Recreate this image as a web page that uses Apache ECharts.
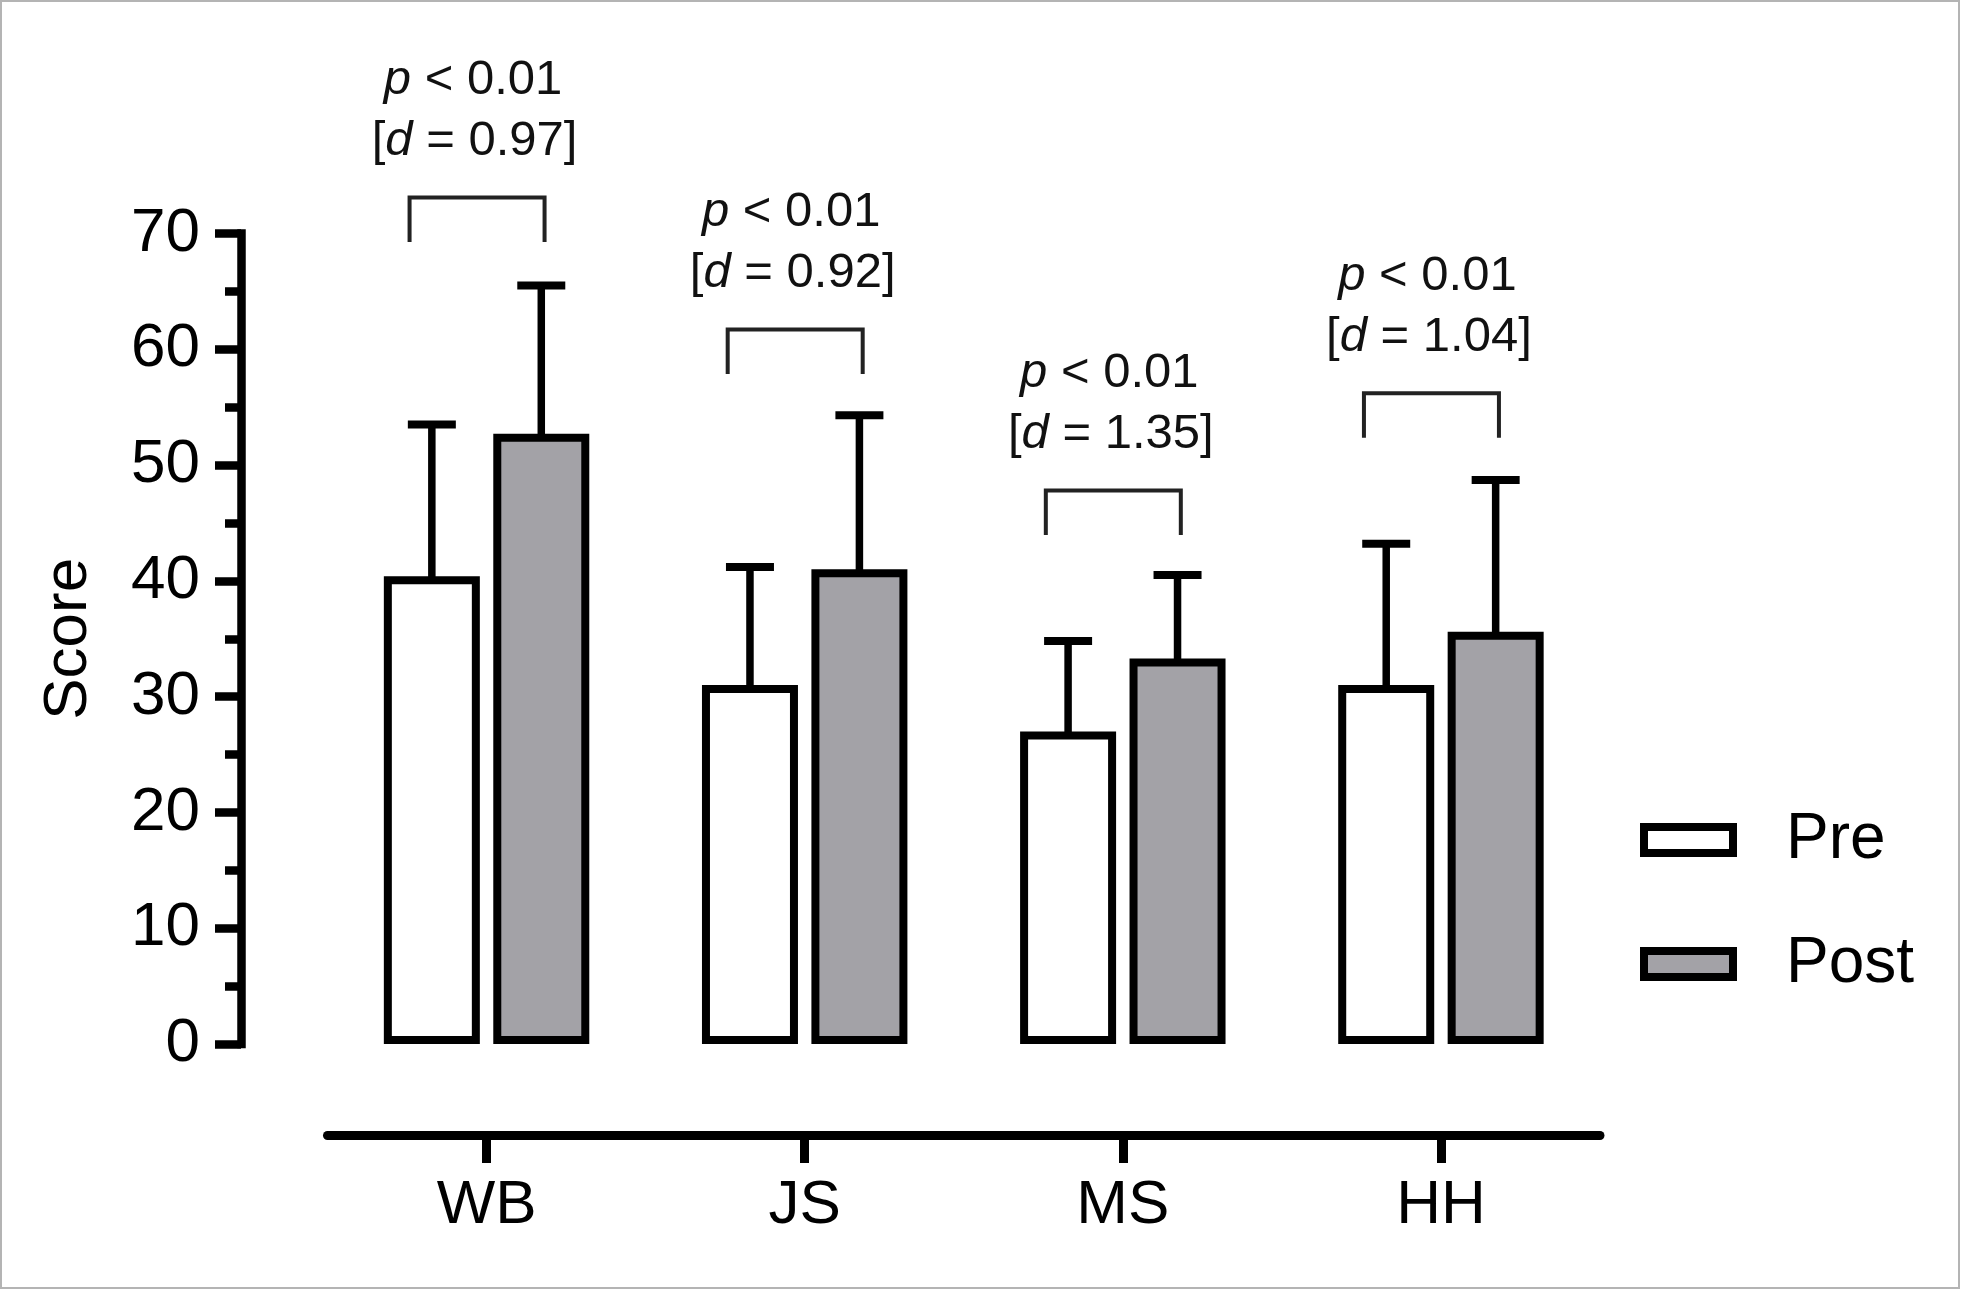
<!DOCTYPE html>
<html>
<head>
<meta charset="utf-8">
<title>Score Pre / Post</title>
<script src="https://cdn.jsdelivr.net/npm/echarts@6/dist/echarts.min.js"></script>
<style>
  html, body { margin: 0; padding: 0; background: #fff; }
  #main { width: 1961px; height: 1290px; }
</style>
</head>
<body>
<div id="main"></div>
<script>
// values
var categories = ['WB', 'JS', 'MS', 'HH'];
var preMean = [40.4, 31.0, 27.0, 31.0];
var preSD = [13.1, 10.2, 7.8, 12.2];
var postMean = [52.7, 41.0, 33.3, 35.6];
var postSD = [12.8, 13.3, 7.2, 13.1];
// significance annotations
var pText = ['< 0.01', '< 0.01', '< 0.01', '< 0.01'];
var dText = ['0.97', '0.92', '1.35', '1.04'];
var bracketTop = [73.1, 61.7, 47.8, 56.2];

var FONT = "'Liberation Sans', Arial, sans-serif";
var BAR_W = 96, BAR_GAP = 0.14;
var shift = BAR_W * (1 + BAR_GAP) / 2;

function errData(means, sds) {
  var out = [];
  for (var i = 0; i < means.length; i++) {
    out.push([i, means[i], sds[i]]);
  }
  return out;
}

// whisker above each bar (mean -> mean + SD)
function errRender(side) {
  return function (params, api) {
    var idx = api.value(0);
    var base = api.coord([idx, api.value(1)]);
    var top = api.coord([idx, api.value(1) + api.value(2)]);
    var x = base[0] + side * shift;
    return {
      type: 'group',
      children: [{
        type: 'line',
        shape: { x1: x, y1: base[1] + 4, x2: x, y2: top[1] },
        style: { stroke: '#000', lineWidth: 7.5 }
      }, {
        type: 'line',
        shape: { x1: x - 24, y1: top[1], x2: x + 24, y2: top[1] },
        style: { stroke: '#000', lineWidth: 8 }
      }]
    };
  };
}

var annData = [];
for (var i = 0; i < categories.length; i++) {
  annData.push([i, bracketTop[i]]);
}

function annRender(params, api) {
  var idx = api.value(0);
  var pt = api.coord([idx, api.value(1)]);
  var cx = pt[0] - 9.5;
  var y = pt[1];
  var half = 67.5, leg = 44.5;
  var tx = pt[0] - 12;
  var rich = { i: { fontStyle: 'italic', fontSize: 49, fontFamily: FONT, fill: '#111' } };
  return {
    type: 'group',
    children: [{
      type: 'polyline',
      shape: { points: [[cx - half, y + leg], [cx - half, y], [cx + half, y], [cx + half, y + leg]] },
      style: { stroke: '#222', lineWidth: 4, fill: null }
    }, {
      type: 'text',
      x: tx - 1.5, y: y - 117,
      style: {
        text: '{i|p} ' + pText[idx],
        rich: rich,
        font: '49px ' + FONT,
        fill: '#111',
        align: 'center',
        verticalAlign: 'middle'
      }
    }, {
      type: 'text',
      x: tx, y: y - 56,
      style: {
        text: '[{i|d} = ' + dText[idx] + ']',
        rich: rich,
        font: '49px ' + FONT,
        fill: '#111',
        align: 'center',
        verticalAlign: 'middle'
      }
    }]
  };
}

var chart = echarts.init(document.getElementById('main'));
var option = {
  backgroundColor: '#fff',
  animation: false,
  textStyle: { fontFamily: FONT, color: '#000' },
  graphic: [{
    type: 'rect',
    shape: { x: 1, y: 1, width: 1958, height: 1287 },
    style: { fill: null, stroke: '#b4b4b4', lineWidth: 2 },
    silent: true
  }],
  grid: { left: 327.5, right: 361, top: 233.5, bottom: 246 },
  legend: {
    data: ['Pre', 'Post'],
    orient: 'vertical',
    left: 1635,
    top: 803,
    itemWidth: 89,
    itemHeight: 26,
    itemGap: 60,
    icon: 'rect',
    itemStyle: { borderColor: '#000', borderWidth: 8 },
    textStyle: { fontSize: 64, lineHeight: 60, fontFamily: FONT, color: '#000', padding: [0, 0, 0, 48] }
  },
  xAxis: {
    type: 'category',
    data: categories,
    offset: 91,
    axisLine: { show: true, onZero: false, lineStyle: { color: '#000', width: 9 } },
    axisTick: { show: true, alignWithLabel: true, length: 28, lineStyle: { color: '#000', width: 9 } },
    axisLabel: { show: true, fontSize: 62, color: '#000', fontFamily: FONT, margin: 40 },
    splitLine: { show: false }
  },
  yAxis: {
    type: 'value',
    min: 0,
    max: 70,
    interval: 10,
    offset: 86.5,
    name: 'Score',
    nameLocation: 'middle',
    nameGap: 141,
    nameTextStyle: { fontSize: 62, color: '#000', fontFamily: FONT },
    axisLine: { show: true, lineStyle: { color: '#000', width: 8.5, cap: 'square' } },
    axisTick: { show: true, length: 26, lineStyle: { color: '#000', width: 8.5 } },
    minorTick: { show: true, splitNumber: 2, length: 16, lineStyle: { color: '#000', width: 8.5 } },
    axisLabel: { fontSize: 62, color: '#000', fontFamily: FONT, margin: 41 },
    splitLine: { show: false }
  },
  series: [{
    name: 'Pre',
    type: 'bar',
    data: preMean,
    barWidth: BAR_W,
    barGap: (BAR_GAP * 100) + '%',
    itemStyle: { color: '#fff', borderColor: '#000', borderWidth: 8 },
    z: 3
  }, {
    name: 'Post',
    type: 'bar',
    data: postMean,
    barWidth: BAR_W,
    barGap: (BAR_GAP * 100) + '%',
    itemStyle: { color: '#a3a2a7', borderColor: '#000', borderWidth: 8 },
    z: 3
  }, {
    type: 'custom',
    renderItem: errRender(-1),
    data: errData(preMean, preSD),
    z: 2,
    silent: true
  }, {
    type: 'custom',
    renderItem: errRender(1),
    data: errData(postMean, postSD),
    z: 2,
    silent: true
  }, {
    type: 'custom',
    renderItem: annRender,
    data: annData,
    z: 4,
    silent: true
  }]
};
chart.setOption(option);
</script>
</body>
</html>
